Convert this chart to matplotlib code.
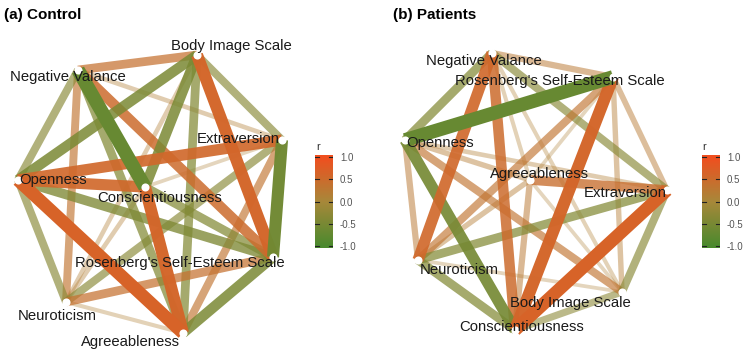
import numpy as np
import matplotlib
matplotlib.use("Agg")
import matplotlib.pyplot as plt
from matplotlib.colors import LinearSegmentedColormap, Normalize

plt.rcParams['font.family'] = ['Liberation Sans', 'DejaVu Sans']

# node names (short keys) and display labels
keys = ["NV", "BIS", "Ext", "Open", "Consc", "RSES", "Neur", "Agree"]
labels = ["Negative Valance", "Body Image Scale", "Extraversion", "Openness",
          "Conscientiousness", "Rosenberg's Self-Esteem Scale", "Neuroticism",
          "Agreeableness"]

# layout (MDS-like) positions, panel pixel units, same order as keys
control_x = [78, 197, 282, 18, 145, 273, 66, 183]
control_y = [70, 55, 140, 180, 187, 257, 302, 333]
patients_x = [117, 247, 292, 30, 140, 238, 43, 155]
patients_y = [53, 292, 190, 140, 330, 77, 260, 180]

# label centres
control_lx = [68, 231, 238, 53, 160, 180, 57, 130]
control_ly = [77, 46, 139, 180, 198, 263, 316, 342]
patients_lx = [109, 195, 250, 65, 147, 185, 84, 164]
patients_ly = [61, 303, 193, 143, 327, 81, 270, 174]

# correlations (edges)
control_from = ["NV", "NV", "NV", "NV", "NV", "NV", "NV",
                "BIS", "BIS", "BIS", "BIS", "BIS", "BIS",
                "Ext", "Ext", "Ext", "Ext", "Ext",
                "Open", "Open", "Open", "Open",
                "Consc", "Consc", "Consc",
                "RSES", "RSES", "Neur"]
control_to = ["BIS", "Ext", "Open", "Consc", "RSES", "Neur", "Agree",
              "Ext", "Open", "Consc", "RSES", "Neur", "Agree",
              "Open", "Consc", "RSES", "Neur", "Agree",
              "Consc", "RSES", "Neur", "Agree",
              "RSES", "Neur", "Agree",
              "Neur", "Agree", "Agree"]
control_r = [0.40, 0.15, -0.35, -0.70, 0.50, 0.35, -0.40,
             -0.35, -0.50, -0.50, 0.60, 0.15, -0.40,
             0.55, 0.10, -0.60, -0.35, 0.35,
             0.55, -0.45, -0.35, 0.65,
             -0.40, 0.15, 0.60,
             0.40, -0.50, 0.12]

patients_from = ["NV", "NV", "NV", "NV", "NV", "NV", "NV",
                 "RSES", "RSES", "RSES", "RSES", "RSES", "RSES",
                 "Open", "Open", "Open", "Open", "Open",
                 "Agree", "Agree", "Agree", "Agree",
                 "Ext", "Ext", "Ext",
                 "Neur", "Neur", "Consc"]
patients_to = ["RSES", "Open", "Neur", "Consc", "Ext", "Agree", "BIS",
               "Open", "Neur", "Consc", "Ext", "BIS", "Agree",
               "Neur", "Consc", "BIS", "Agree", "Ext",
               "Ext", "Neur", "Consc", "BIS",
               "Neur", "Consc", "BIS",
               "Consc", "BIS", "BIS"]
patients_r = [0.25, -0.40, 0.55, 0.50, -0.35, 0.12, 0.12,
              -0.70, 0.35, 0.60, 0.22, 0.20, 0.10,
              0.25, -0.55, 0.35, 0.20, 0.15,
              0.45, 0.20, 0.25, 0.10,
              -0.40, 0.65, -0.35,
              -0.40, 0.10, -0.30]

cbar_ticks = [1.0, 0.5, 0.0, -0.5, -1.0]

cmap = LinearSegmentedColormap.from_list("r", ["#4b8a2e", "#a8883a", "#f04f1f"])
norm = Normalize(-1, 1)


def draw_network(ax, xs, ys, lxs, lys, e_from, e_to, e_r, title, title_x):
    pos = {k: (x, y) for k, x, y in zip(keys, xs, ys)}
    order = np.argsort(np.abs(e_r))
    for i in order:
        r = e_r[i]
        a, b = pos[e_from[i]], pos[e_to[i]]
        ax.plot([a[0], b[0]], [a[1], b[1]], color=cmap(norm(r)),
                alpha=min(1.0, 0.2 + 1.3 * abs(r)), lw=1.5 + 12 * abs(r),
                solid_capstyle='butt', zorder=2)
    ax.scatter(xs, ys, s=34, color='white', zorder=3, linewidths=0)
    for lab, lx, ly in zip(labels, lxs, lys):
        ax.text(lx, ly, lab, ha='center', va='center', fontsize=10.7,
                color='#1a1a1a', zorder=4)
    ax.text(title_x, 15, title, ha='left', va='center', fontsize=11,
            fontweight='bold')
    ax.set_xlim(0, 375)
    ax.set_ylim(355, 0)
    ax.axis('off')


def draw_cbar(fig, x0, label_x):
    W, H = 750, 355
    top, bot = 155, 248
    cax = fig.add_axes([x0 / W, 1 - bot / H, 18 / W, (bot - top) / H])
    lim = 1.045
    grad = np.linspace(lim, -lim, 256)[:, None]
    cax.imshow(np.clip(grad, -1, 1), aspect='auto', cmap=cmap, norm=norm,
               extent=[0, 1, -lim, lim])
    for t in cbar_ticks:
        cax.plot([0, 0.2], [t, t], color='#222222', lw=0.8)
        cax.plot([0.8, 1], [t, t], color='#222222', lw=0.8)
    cax.set_xlim(0, 1)
    cax.set_ylim(-lim, lim)
    cax.set_xticks([])
    cax.yaxis.tick_right()
    cax.set_yticks(cbar_ticks)
    cax.set_yticklabels([f"{t:.1f}" for t in cbar_ticks], fontsize=7, color='#555555')
    cax.tick_params(axis='y', length=0, pad=5)
    for s in cax.spines.values():
        s.set_visible(False)
    fig.text(label_x / W, 1 - 147 / H, "r", fontsize=8, ha='left', va='center',
             color='#333333')


fig = plt.figure(figsize=(7.5, 3.55), dpi=100)
ax_a = fig.add_axes([0, 0, 0.5, 1])
ax_b = fig.add_axes([0.5, 0, 0.5, 1])

draw_network(ax_a, control_x, control_y, control_lx, control_ly,
             control_from, control_to, control_r, "(a) Control", 4)
draw_network(ax_b, patients_x, patients_y, patients_lx, patients_ly,
             patients_from, patients_to, patients_r, "(b) Patients", 18)

draw_cbar(fig, 315, 316)
draw_cbar(fig, 702, 702)

fig.savefig("out.png", dpi=100)
